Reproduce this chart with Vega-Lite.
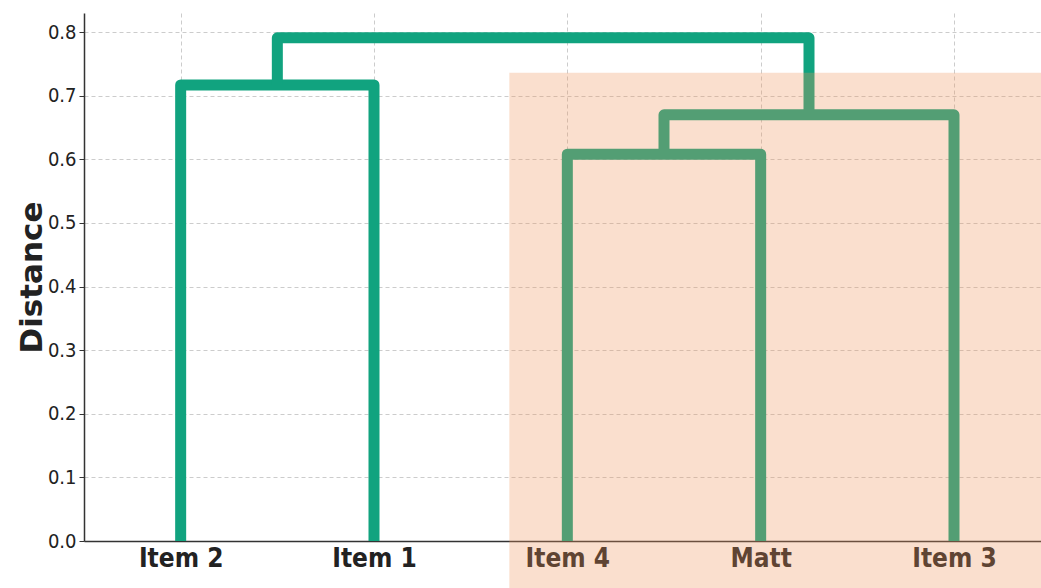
{
  "$schema": "https://vega.github.io/schema/vega-lite/v6.json",
  "autosize": {"type": "none"},
  "width": 957,
  "height": 528,
  "padding": {"left": 84, "top": 13, "right": 0, "bottom": 47},
  "background": "white",
  "config": {
    "view": {"stroke": null},
    "font": "DejaVu Sans"
  },
  "datasets": {
    "links": [
      {"link": "a", "order": 1, "x": 5, "y": 0},
      {"link": "a", "order": 2, "x": 5, "y": 0.717},
      {"link": "a", "order": 3, "x": 15, "y": 0.717},
      {"link": "a", "order": 4, "x": 15, "y": 0},
      {"link": "b", "order": 1, "x": 25, "y": 0},
      {"link": "b", "order": 2, "x": 25, "y": 0.608},
      {"link": "b", "order": 3, "x": 35, "y": 0.608},
      {"link": "b", "order": 4, "x": 35, "y": 0},
      {"link": "c", "order": 1, "x": 30, "y": 0.608},
      {"link": "c", "order": 2, "x": 30, "y": 0.67},
      {"link": "c", "order": 3, "x": 45, "y": 0.67},
      {"link": "c", "order": 4, "x": 45, "y": 0},
      {"link": "d", "order": 1, "x": 10, "y": 0.717},
      {"link": "d", "order": 2, "x": 10, "y": 0.791},
      {"link": "d", "order": 3, "x": 37.5, "y": 0.791},
      {"link": "d", "order": 4, "x": 37.5, "y": 0.67}
    ],
    "highlight": [
      {"x": 22, "x2": 60, "y": -0.2, "y2": 0.736}
    ]
  },
  "layer": [
    {
      "data": {"name": "links"},
      "mark": {"type": "line", "color": "#11a37f", "strokeWidth": 11, "strokeJoin": "round", "strokeCap": "butt", "clip": false},
      "encoding": {
        "x": {
          "field": "x", "type": "quantitative",
          "scale": {"domain": [0, 49.5], "nice": false, "zero": false},
          "axis": {
            "title": null,
            "values": [5, 15, 25, 35, 45],
            "labelExpr": "datum.value == 5 ? 'Item 2' : datum.value == 15 ? 'Item 1' : datum.value == 25 ? 'Item 4' : datum.value == 35 ? 'Matt' : 'Item 3'",
            "labelFont": "DejaVu Sans Condensed, DejaVu Sans",
            "labelFontWeight": "bold",
            "labelFontSize": 26,
            "labelColor": "#222222",
            "labelPadding": 4,
            "ticks": false,
            "domainColor": "#333333",
            "domainWidth": 1.5,
            "grid": true,
            "gridColor": "#cccccc",
            "gridDash": [4, 3],
            "gridWidth": 1
          }
        },
        "y": {
          "field": "y", "type": "quantitative",
          "scale": {"domain": [0, 0.83], "nice": false, "zero": false},
          "axis": {
            "title": "Distance",
            "titleFont": "DejaVu Sans",
            "titleFontWeight": "bold",
            "titleFontSize": 31,
            "titleColor": "#222222",
            "titlePadding": -1,
            "values": [0, 0.1, 0.2, 0.3, 0.4, 0.5, 0.6, 0.7, 0.8],
            "format": ".1f",
            "labelFont": "DejaVu Sans Condensed, DejaVu Sans",
            "labelFontSize": 20,
            "labelColor": "#222222",
            "labelPadding": 3,
            "tickSize": 5,
            "tickColor": "#333333",
            "domainColor": "#333333",
            "domainWidth": 1.5,
            "grid": true,
            "gridColor": "#cccccc",
            "gridDash": [4, 3],
            "gridWidth": 1
          }
        },
        "detail": {"field": "link"},
        "order": {"field": "order"}
      }
    },
    {
      "data": {"name": "highlight"},
      "mark": {"type": "rect", "color": "#f0965c", "opacity": 0.3, "clip": false},
      "encoding": {
        "x": {"field": "x", "type": "quantitative"},
        "x2": {"field": "x2"},
        "y": {"field": "y", "type": "quantitative"},
        "y2": {"field": "y2"}
      }
    }
  ]
}
